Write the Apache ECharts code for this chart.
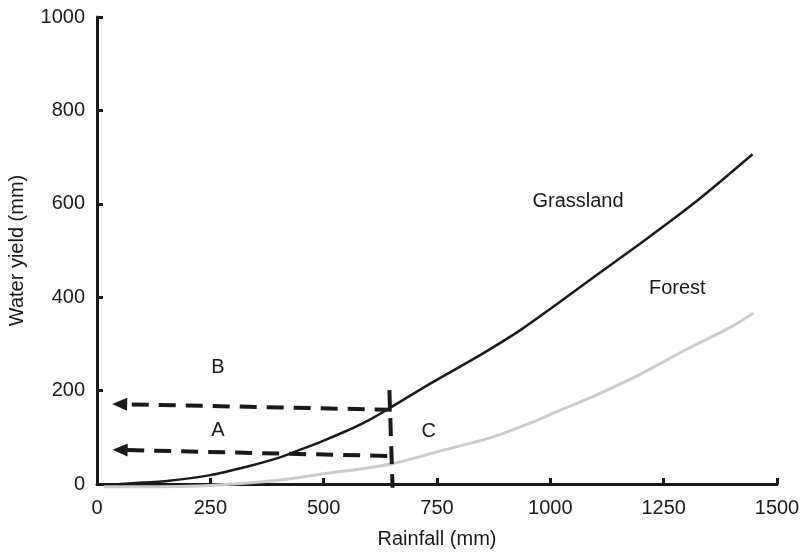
<!DOCTYPE html>
<html>
<head>
<meta charset="UTF-8">
<title>Water yield vs rainfall</title>
<script src="https://cdn.jsdelivr.net/npm/echarts@6/dist/echarts.min.js"></script>
</head>
<body style="margin:0">
<div id="main" style="width:801px;height:557px;"></div>
<script type="text/javascript">
// rainfall (mm), water yield (mm)
var grassland = [[50,0],[100,3],[150,6],[250,19],[330,37],[400,56],[450,74],[500,93],[551,114],[600,137],[643,161],[735,215],[845,276],[933,329],[1014,385],[1100,446],[1190,509],[1323,606],[1446,706]];
var forest = [[15,-6],[100,-6],[200,-5],[300,0],[400,8],[500,22],[600,35],[654,44],[751,69],[874,101],[962,133],[1000,149],[1100,190],[1200,236],[1300,288],[1400,337],[1448,366]];
var xTicks = [0,250,500,750,1000,1250,1500];
var yTicks = [0,200,400,600,800,1000];
// dashed guides: [from, to], arrow at "to" end
var arrowB = [[650,159],[50,171]];
var arrowA = [[640,60],[51,73]];
var vline = [[645,201],[652,-8]];
// text notes: [text, x, y]
var notes = [['B',267,250],['A',267,115],['C',732,113],['Grassland',1061,605],['Forest',1280,418]];

var myChart = echarts.init(document.getElementById('main'));
var font = 'Liberation Sans, Arial, sans-serif';
var ink = '#1a1a1a';
var dash = {color:ink, width:4, type:[17,10]};

function guide(p){
    return [{coord:p[0], symbol:'none'}, {coord:p[1], symbol:'triangle', symbolSize:[13,15]}];
}

var option = {
    animation:false,
    grid:{left:97, right:24, top:17, bottom:73, outerBoundsMode:'none'},
    xAxis:{
        type:'value', min:0, max:1500, interval:250,
        name:'Rainfall (mm)', nameLocation:'middle', nameGap:45,
        nameTextStyle:{fontFamily:font, fontSize:20, color:ink},
        axisLine:{lineStyle:{color:ink, width:3}},
        axisTick:{inside:true, length:6, lineStyle:{width:3, color:ink}},
        axisLabel:{fontFamily:font, fontSize:20, color:ink, margin:14,
            formatter:function(v){ return xTicks.indexOf(v) >= 0 ? v : ''; }},
        splitLine:{show:false}
    },
    yAxis:{
        type:'value', min:0, max:1000, interval:200,
        name:'Water yield (mm)', nameLocation:'middle', nameGap:70,
        nameTextStyle:{fontFamily:font, fontSize:20, color:ink},
        axisLine:{show:true, lineStyle:{color:ink, width:3}},
        axisTick:{show:true, inside:true, length:6, lineStyle:{width:3, color:ink}},
        axisLabel:{fontFamily:font, fontSize:20, color:ink, margin:12,
            formatter:function(v){ return yTicks.indexOf(v) >= 0 ? v : ''; }},
        splitLine:{show:false}
    },
    series:[
        {type:'line', name:'Forest', data:forest, smooth:0.3, symbol:'none', clip:false,
         lineStyle:{color:'#cccccc', width:3}},
        {type:'line', name:'Grassland', data:grassland, smooth:0.3, symbol:'none', clip:false,
         lineStyle:{color:ink, width:2.5},
         markLine:{silent:true, animation:false, label:{show:false},
            lineStyle:dash, itemStyle:{color:ink},
            data:[guide(arrowB), guide(arrowA)]}},
        {type:'line', name:'guide', data:vline, symbol:'none', clip:false, silent:true,
         lineStyle:{color:ink, width:4, type:[18,10]}},
        {type:'scatter', data:notes.map(function(n){ return {value:[n[1],n[2]], name:n[0]}; }),
         symbolSize:0, silent:true, itemStyle:{opacity:1},
         label:{show:true, position:'inside', formatter:'{b}', fontFamily:font, fontSize:20, color:ink, opacity:1}}
    ]
};
myChart.setOption(option);
</script>
</body>
</html>
